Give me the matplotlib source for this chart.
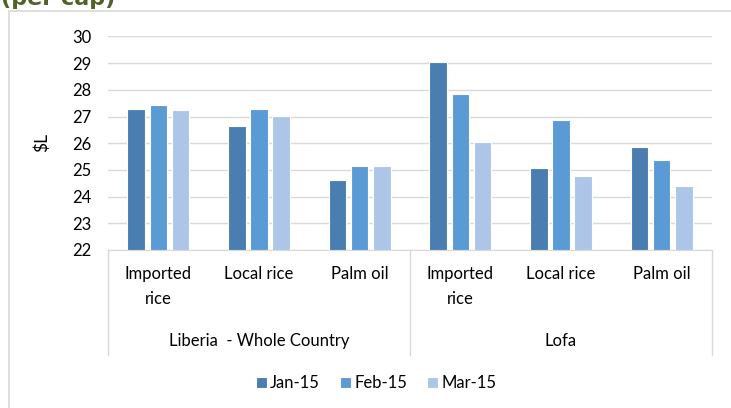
import numpy as np
import matplotlib
matplotlib.use("Agg")
import matplotlib.pyplot as plt
from matplotlib.patches import Rectangle

plt.rcParams['font.family'] = ['Lato', 'DejaVu Sans']

# data
products = ["Imported\nrice", "Local rice", "Palm oil", "Imported\nrice", "Local rice", "Palm oil"]
regions = ["Liberia  - Whole Country", "Lofa"]
months = ["Jan-15", "Feb-15", "Mar-15"]
jan = [27.27, 26.65, 24.64, 29.05, 25.08, 25.87]
feb = [27.45, 27.27, 25.13, 27.83, 26.86, 25.38]
mar = [27.24, 27.02, 25.13, 26.03, 24.76, 24.38]
colors = ["#4A7EB1", "#5B9BD5", "#ADC5E7"]

W, H = 731, 408
fig = plt.figure(figsize=(W / 100, H / 100), dpi=100)

# outer chart border (cropped on right/bottom)
fig.patches.append(Rectangle((9 / W, -0.2), 1.0, 1.2 - 11 / H, transform=fig.transFigure,
                             fill=False, edgecolor="#D9D9D9", lw=1.2))
# cropped title
fig.text(1 / W, 1 - 5 / H, "(per cap)", color="#4F6228", fontsize=16, fontweight="bold",
         family="DejaVu Sans", va="baseline", ha="left")

ah = 250 - 36.5
ax = fig.add_axes([108 / W, (H - 250) / H, 604 / W, ah / H])
x = np.arange(len(products))
step, bw = 0.22, 0.175
for i, (vals, lab) in enumerate(zip([jan, feb, mar], months)):
    ax.bar(x + (i - 1) * step, np.array(vals) - 22, bottom=22, width=bw, color=colors[i],
           edgecolor="white", linewidth=0.8, label=lab, zorder=3)

ax.set_xlim(-0.5, 5.5)
ax.set_ylim(22, 30)
ax.set_yticks(range(22, 31))
ax.tick_params(axis="y", length=0, labelsize=12, pad=12, colors="#000000")
ax.set_xticks([])
ax.grid(axis="y", color="#D9D9D9", lw=1, zorder=0)
for s in ["left", "right", "top"]:
    ax.spines[s].set_visible(False)
ax.spines["bottom"].set_color("#D9D9D9")
ax.set_ylabel(r"\$L", fontsize=12.5)
ax.yaxis.set_label_coords((50 - 108) / 604, (250 - 143) / ah)

# category labels
for xi, p in zip(x, products):
    ax.text(xi, -(266 - 250) / ah, p, transform=ax.get_xaxis_transform(), ha="center",
            va="top", fontsize=12, linespacing=1.7, clip_on=False)
for gi, r in enumerate(regions):
    ax.text(gi * 3 + 1, -(341 - 250) / ah, r, transform=ax.get_xaxis_transform(),
            ha="center", va="center", fontsize=12, clip_on=False)
for xd in [-0.5, 2.5, 5.5]:
    ax.plot([xd, xd], [0, -(355 - 250) / ah], transform=ax.get_xaxis_transform(),
            color="#D9D9D9", lw=1, clip_on=False)

fig.legend(loc="center", bbox_to_anchor=(376 / W, 1 - 383 / H), ncol=3, frameon=False,
           fontsize=12, handlelength=0.65, handleheight=0.65, handletextpad=0.2,
           columnspacing=1.2)

fig.savefig("out.png", dpi=100)
